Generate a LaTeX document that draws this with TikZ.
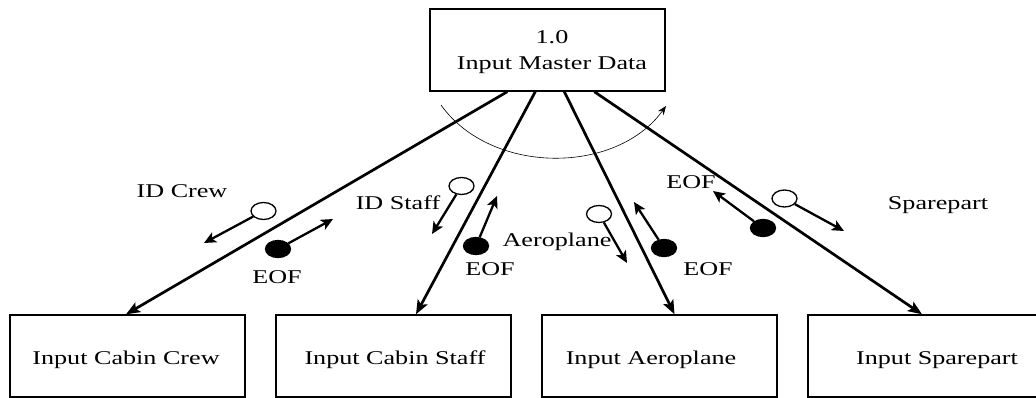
\documentclass[tikz,border=0pt]{standalone}
\usepackage{fontspec}
\setmainfont{Liberation Serif}[FakeStretch=1.34]
\usetikzlibrary{arrows.meta,shapes.geometric}

\tikzset{
  procbox/.style={draw, line width=1.4pt, inner sep=0pt},
  txt/.style={font=\fontsize{19.5}{23}\selectfont, inner sep=0pt, anchor=base},
  flow/.style={line width=2.7pt, -{Stealth[length=14pt,width=11pt,inset=3pt]}},
  couple/.style={line width=2.3pt, -{Stealth[length=12pt,width=11pt,inset=3pt]}},
  datadot/.style={ellipse, draw, line width=1.3pt, minimum width=25pt, minimum height=17pt, inner sep=0pt, fill=white},
  ctrldot/.style={datadot, fill=black},
  sweep/.style={line width=0.6pt, -{Stealth[length=9pt,width=7pt]}}
}

\begin{document}
\begin{tikzpicture}[x=1pt, y=-1pt]
\useasboundingbox (0,0) rectangle (1036,398);

% process boxes
\node[procbox, minimum width=235pt, minimum height=82pt] (master) at (547.5,50) {};
\node[procbox, minimum width=235pt, minimum height=82pt] (crew)   at (127.5,356) {};
\node[procbox, minimum width=235pt, minimum height=82pt] (staff)  at (393.5,356) {};
\node[procbox, minimum width=235pt, minimum height=82pt] (plane)  at (659.5,356) {};
\node[procbox, minimum width=240pt, minimum height=82pt] (spare)  at (928,356) {};

% box texts
\node[txt] (mnum)  at (552,44) {1.0};
\node[txt] (mname) at (552,70) {Input Master Data};
\node[txt] (tcrew)  at (126,364) {Input Cabin Crew};
\node[txt] (tstaff) at (395,364) {Input Cabin Staff};
\node[txt] (tplane) at (651,364) {Input Aeroplane};
\node[txt] (tspare) at (937,364) {Input Sparepart};

% flows from the master process to the four input processes
\draw[flow] ([xshift=78pt]master.south west)  -- ([xshift=-1.5pt]crew.north);
\draw[flow] ([xshift=106pt]master.south west) -- ([xshift=22.5pt]staff.north);
\draw[flow] ([xshift=135pt]master.south west) -- ([xshift=15pt]plane.north);
\draw[flow] ([xshift=165pt]master.south west) -- ([xshift=-6pt]spare.north);

% iteration sweep under the master box
\coordinate (sweepA) at (441,105);
\coordinate (sweepB) at (666,106);
\draw[sweep] (sweepA) .. controls (491,175) and (616,175) .. (sweepB);

% data and control couples
\node[datadot] (c1) at (263.5,211) {};
\coordinate (c1t) at (204,243);
\draw[couple] (c1) -- (c1t);
\node[ctrldot] (c2) at (278,249) {};
\coordinate (c2t) at (333,219);
\draw[couple] (c2) -- (c2t);

\node[datadot] (c3) at (461.5,186) {};
\coordinate (c3t) at (432,234);
\draw[couple] (c3) -- (c3t);
\node[ctrldot] (c4) at (476,246) {};
\coordinate (c4t) at (497,196);
\draw[couple] (c4) -- (c4t);

\node[datadot] (c5) at (599,214) {};
\coordinate (c5t) at (627,263);
\draw[couple] (c5) -- (c5t);
\node[ctrldot] (c6) at (664,248) {};
\coordinate (c6t) at (634,202);
\draw[couple] (c6) -- (c6t);

\node[ctrldot] (c7) at (763,228) {};
\coordinate (c7t) at (713,191);
\draw[couple] (c7) -- (c7t);
\node[datadot] (c8) at (784.5,198.5) {};
\coordinate (c8t) at (844,231);
\draw[couple] (c8) -- (c8t);

% couple labels
\node[txt] (lcrew)  at (182,198) {ID Crew};
\node[txt] (leof1)  at (277,283) {EOF};
\node[txt] (lstaff) at (398,210) {ID Staff};
\node[txt] (leof2)  at (490,275) {EOF};
\node[txt] (lplane) at (557,247) {Aeroplane};
\node[txt] (leof3)  at (708,275) {EOF};
\node[txt] (leof4)  at (691,189) {EOF};
\node[txt] (lspare) at (938,210) {Sparepart};
\end{tikzpicture}
\end{document}
